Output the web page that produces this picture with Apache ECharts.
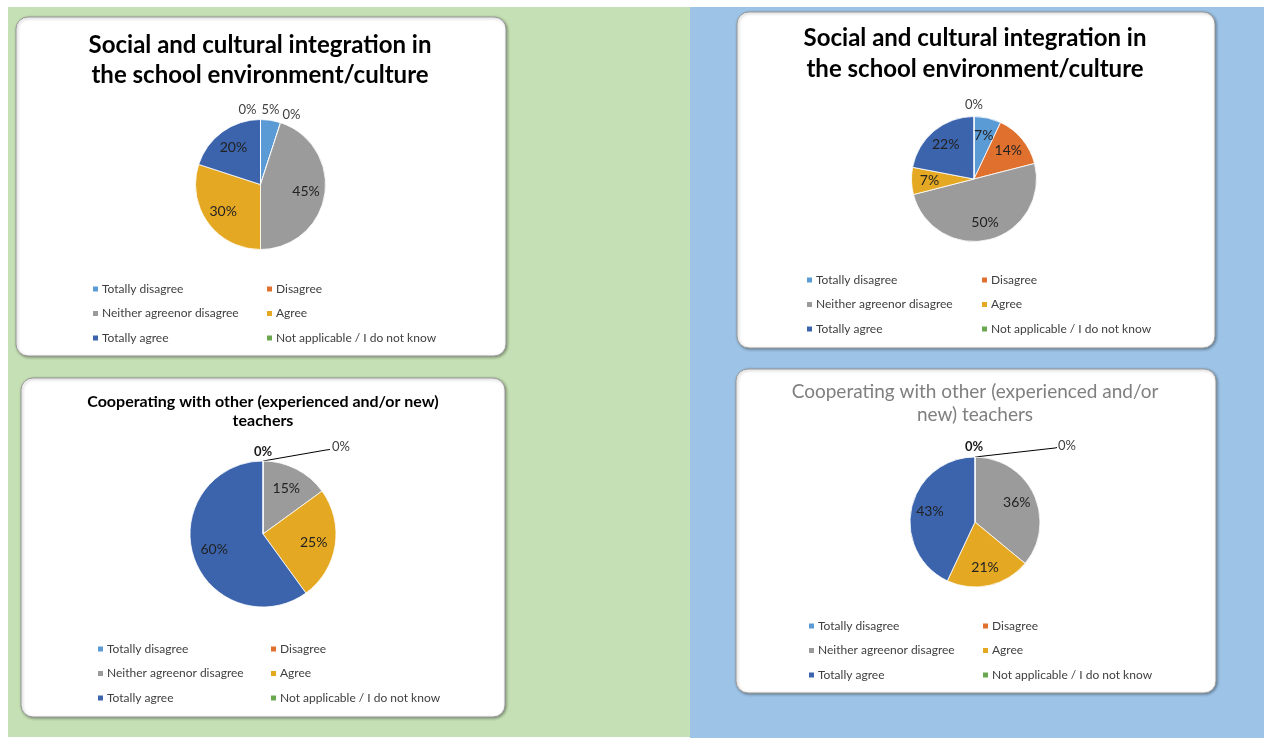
<!DOCTYPE html>
<html>
<head>
<meta charset="utf-8">
<script src="https://cdn.jsdelivr.net/npm/echarts@6/dist/echarts.min.js"></script>
<style>
  html, body { margin: 0; padding: 0; background: #fff; }
  #main { width: 1264px; height: 738px; }
</style>
</head>
<body>
<div id="main"></div>
<script>
  // categories, shared by all four pies
  var categories = ['Totally disagree', 'Disagree', 'Neither agreenor disagree', 'Agree', 'Totally agree', 'Not applicable / I do not know'];
  var colors = ['#5B9BD5', '#E0702E', '#9B9B9B', '#E5A823', '#3B64AD', '#6AA84F'];

  // values in percent
  var socialLeft = [5, 0, 45, 30, 20, 0];
  var coopLeft = [0, 0, 15, 25, 60, 0];
  var socialRight = [7, 14, 50, 7, 22, 0];
  var coopRight = [0, 0, 36, 21, 43, 0];

  var socialTitle = 'Social and cultural integration in\nthe school environment/culture';
  var coopTitleLeft = 'Cooperating with other (experienced and/or new)\nteachers';
  var coopTitleRight = 'Cooperating with other (experienced and/or\nnew) teachers';

  var font = 'Lato, "Open Sans", sans-serif';
  var insideSpread = 1.3; // inside labels sit further out than echarts' r/2

  // pie factory. tweaks: per data index, label offsets from the centre (style only)
  function pie(values, cx, cy, r, tweaks) {
    return {
      type: 'pie',
      center: [cx, cy],
      radius: r,
      startAngle: 90,
      clockwise: true,
      avoidLabelOverlap: false,
      itemStyle: { borderColor: '#fff', borderWidth: 0.8 },
      label: { position: 'inside', formatter: '{c}%', fontSize: 14, color: '#222', fontFamily: font },
      labelLine: { show: false },
      emphasis: { disabled: true },
      data: categories.map(function (name, i) {
        var item = { name: name, value: values[i], itemStyle: { color: colors[i] } };
        var t = tweaks[i];
        if (t === false) {
          item.label = { show: false };
        } else if (t) {
          item.label = { position: 'outside', fontSize: 13, fontWeight: t.bold ? 'bold' : 'normal', color: t.bold ? '#1a1a1a' : '#404040' };
          item.labelLine = { show: !!t.line, lineStyle: { color: '#000', width: 1 } };
        }
        return item;
      }),
      labelLayout: function (p) {
        var t = tweaks[p.dataIndex];
        if (!t) {
          var lx = p.labelRect.x + p.labelRect.width / 2;
          var ly = p.labelRect.y + p.labelRect.height / 2;
          return { x: cx + (lx - cx) * insideSpread, y: cy + (ly - cy) * insideSpread, align: 'center', verticalAlign: 'middle' };
        }
        var out = { x: cx + t.dx, y: cy + t.dy, align: t.align || 'center', verticalAlign: 'middle' };
        if (t.line) {
          out.labelLinePoints = [[cx, cy - r], [cx + t.line[0], cy - r + t.line[1]], [cx + t.line[2], cy - r + t.line[3]]];
        }
        return out;
      }
    };
  }

  function legendPair(x1, x2, top) {
    var base = {
      orient: 'vertical', top: top, padding: 0, itemWidth: 7, itemHeight: 7, itemGap: 10.5,
      icon: 'rect', selectedMode: false,
      textStyle: { fontSize: 12, color: '#404040', lineHeight: 14, fontFamily: font, padding: [0, 0, 0, -2] }
    };
    return [
      Object.assign({ left: x1, data: [categories[0], categories[2], categories[4]] }, base),
      Object.assign({ left: x2, data: [categories[1], categories[3], categories[5]] }, base)
    ];
  }

  function card(x, y, w, h) {
    return {
      type: 'rect', z: 1,
      shape: { x: x, y: y, width: w, height: h, r: 12 },
      style: { fill: '#fff', stroke: '#9a9a9a', lineWidth: 1, shadowBlur: 3, shadowColor: 'rgba(0,0,0,0.35)', shadowOffsetX: 1, shadowOffsetY: 1 }
    };
  }

  var myChart = echarts.init(document.getElementById('main'));
  var option = {
    animation: false,
    graphic: [
      { type: 'rect', z: 0, shape: { x: 8, y: 7, width: 682, height: 730 }, style: { fill: '#C5E0B4' } },
      { type: 'rect', z: 0, shape: { x: 690, y: 7, width: 574, height: 731 }, style: { fill: '#9DC3E6' } },
      card(16, 17, 490, 339),
      card(21, 378, 484, 339),
      card(737, 12, 478, 336),
      card(736, 369, 480, 324)
    ],
    title: [
      { text: socialTitle, left: 260, top: 30, textAlign: 'center', padding: 0,
        textStyle: { fontSize: 24, fontWeight: 'bold', color: '#000', lineHeight: 30, fontFamily: font } },
      { text: coopTitleLeft, left: 263, top: 392, textAlign: 'center', padding: 0,
        textStyle: { fontSize: 16, fontWeight: 'bold', color: '#000', lineHeight: 19, fontFamily: font } },
      { text: socialTitle, left: 975, top: 23, textAlign: 'center', padding: 0,
        textStyle: { fontSize: 24, fontWeight: 'bold', color: '#000', lineHeight: 31, fontFamily: font } },
      { text: coopTitleRight, left: 975, top: 380, textAlign: 'center', padding: 0,
        textStyle: { fontSize: 19, fontWeight: 'normal', color: '#7F7F7F', lineHeight: 23, fontFamily: font } }
    ],
    legend: [].concat(
      legendPair(91, 265, 282),
      legendPair(96, 269, 642),
      legendPair(805, 980, 273),
      legendPair(807, 981, 619)
    ),
    series: [
      pie(socialLeft, 260.5, 184.5, 65, {
        0: { dx: 10, dy: -75 },
        1: { dx: 31, dy: -70 },
        5: { dx: -13, dy: -75 }
      }),
      pie(coopLeft, 263, 534, 73, {
        0: { dx: 69, dy: -87.5, align: 'left', line: [63, -11, 67, -11.5] },
        1: false,
        5: { dx: 0, dy: -82.5, bold: true }
      }),
      pie(socialRight, 974, 179, 62.5, {
        5: { dx: 0, dy: -74 }
      }),
      pie(coopRight, 975, 522, 65, {
        0: { dx: 83, dy: -76, align: 'left', line: [80, -9, 82, -9.5] },
        1: false,
        5: { dx: -1, dy: -75, bold: true }
      })
    ]
  };
  myChart.setOption(option);
</script>
</body>
</html>
